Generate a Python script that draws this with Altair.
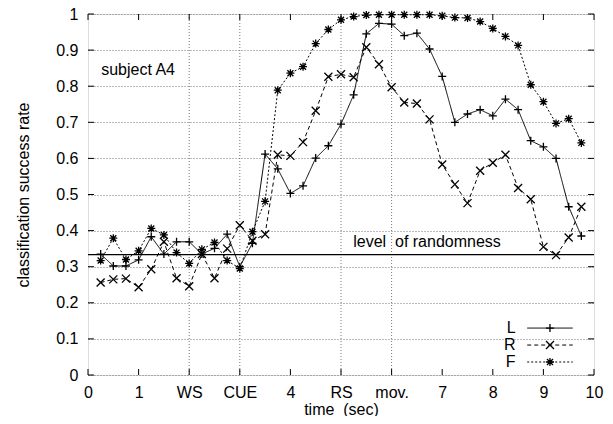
import altair as alt
import pandas as pd

# ---------------- data ----------------
time_s = [0.25, 0.5, 0.75, 1.0, 1.25, 1.5, 1.75, 2.0, 2.25, 2.5, 2.75, 3.0, 3.25,
          3.5, 3.75, 4.0, 4.25, 4.5, 4.75, 5.0, 5.25, 5.5, 5.75, 6.0, 6.25, 6.5,
          6.75, 7.0, 7.25, 7.5, 7.75, 8.0, 8.25, 8.5, 8.75, 9.0, 9.25, 9.5, 9.75]

L_vals = [0.335, 0.302, 0.302, 0.319, 0.383, 0.335, 0.369, 0.369, 0.335, 0.351,
          0.390, 0.300, 0.365, 0.612, 0.571, 0.503, 0.524, 0.601, 0.635, 0.695,
          0.776, 0.945, 0.974, 0.972, 0.940, 0.947, 0.903, 0.827, 0.700, 0.723,
          0.735, 0.718, 0.764, 0.735, 0.649, 0.632, 0.600, 0.466, 0.385]
R_vals = [0.256, 0.265, 0.267, 0.243, 0.293, 0.369, 0.268, 0.246, 0.335, 0.268,
          0.350, 0.415, 0.372, 0.390, 0.610, 0.607, 0.645, 0.732, 0.826, 0.833,
          0.825, 0.908, 0.861, 0.797, 0.755, 0.752, 0.708, 0.583, 0.528, 0.476,
          0.566, 0.588, 0.610, 0.518, 0.487, 0.355, 0.332, 0.381, 0.466]
F_vals = [0.317, 0.379, 0.320, 0.344, 0.406, 0.388, 0.339, 0.309, 0.348, 0.367,
          0.317, 0.295, 0.397, 0.481, 0.789, 0.836, 0.854, 0.918, 0.957, 0.984,
          0.993, 0.997, 0.998, 0.998, 0.998, 0.998, 0.998, 0.995, 0.990, 0.989,
          0.979, 0.960, 0.938, 0.913, 0.804, 0.757, 0.697, 0.710, 0.643]

x_ticks = [0, 1, 2, 3, 4, 5, 6, 7, 8, 9, 10]
x_tick_labels = ["0", "1", "WS", "CUE", "4", "RS", "mov.", "7", "8", "9", "10"]
x_grid = [2, 3, 5, 6]
y_ticks = [0, 0.1, 0.2, 0.3, 0.4, 0.5, 0.6, 0.7, 0.8, 0.9, 1.0]
randomness = [0.3333]

series_names = ["L", "R", "F"]
legend_y = [0.13, 0.083, 0.036]
legend_label_x = [8.45, 8.45, 8.45]
legend_line_x = [8.68, 9.58]
legend_marker_x = [9.13]

NBSP = "\u00a0"
randomness_text = "level" + NBSP + NBSP + "of randomness"
subject_text = "subject A4"
x_title = "time" + NBSP + NBSP + "(sec)"
y_title = "classification success rate"

# ---------------- styling ----------------
W, H = 506, 361
FONT = "Liberation Sans"
PLUS = "M-1,0L1,0M0,-1L0,1"
XSH = "M-1,-1L1,1M-1,1L1,-1"
STAR = "M-1,0L1,0M0,-1L0,1M-0.75,-0.75L0.75,0.75M-0.75,0.75L0.75,-0.75"
styles = {
    "L": dict(dash=[1, 0], shape=PLUS),
    "R": dict(dash=[4, 3], shape=XSH),
    "F": dict(dash=[2, 2], shape=STAR),
}
vals = {"L": L_vals, "R": R_vals, "F": F_vals}

xs = alt.Scale(domain=[0, 10], nice=False, zero=False)
ys = alt.Scale(domain=[0, 1], nice=False)

label_expr = " : ".join(
    f"datum.value == {v} ? '{lab}'" for v, lab in zip(x_ticks, x_tick_labels)
) + " : ''"

xaxis = alt.Axis(values=x_ticks, labelExpr=label_expr, grid=False, tickSize=0,
                 domain=False, labelFont=FONT, labelFontSize=16, labelColor="black",
                 labelPadding=9, labelOverlap=False, title=x_title, titleFont=FONT,
                 titleFontSize=16, titleFontWeight=400, titleColor="black",
                 titlePadding=1, labelFlush=False)
yaxis = alt.Axis(values=y_ticks, format="~g", grid=True, gridDash=[1, 2],
                 gridColor="#555", gridWidth=0.8, tickSize=0, domain=False,
                 labelFont=FONT, labelFontSize=16, labelColor="black",
                 labelPadding=10, labelOverlap=False, title=y_title,
                 titleFont=FONT, titleFontSize=16, titleFontWeight=400,
                 titleColor="black", titlePadding=24, labelFlush=False)


def X(field):
    return alt.X(field, scale=xs, axis=xaxis)


def Y(field):
    return alt.Y(field, scale=ys, axis=yaxis)


layers = []

# vertical grid lines (only at the event markers)
grid_df = pd.DataFrame({"x": x_grid})
layers.append(
    alt.Chart(grid_df).mark_rule(color="#555", strokeDash=[1, 2], strokeWidth=0.8)
    .encode(x=X("x:Q"), y=alt.value(0), y2=alt.value(H))
)
# inward ticks, left and right
ydf = pd.DataFrame({"y": y_ticks})
layers.append(
    alt.Chart(ydf).mark_rule(color="black", strokeWidth=1)
    .encode(y=Y("y:Q"), x=alt.value(0), x2=alt.value(6))
)
layers.append(
    alt.Chart(ydf).mark_rule(color="black", strokeWidth=1)
    .encode(y=Y("y:Q"), x=alt.value(W - 6), x2=alt.value(W))
)
# inward ticks, bottom and top
xdf = pd.DataFrame({"x": x_ticks})
layers.append(
    alt.Chart(xdf).mark_rule(color="black", strokeWidth=1)
    .encode(x=X("x:Q"), y=alt.value(H - 6), y2=alt.value(H))
)
layers.append(
    alt.Chart(xdf).mark_rule(color="black", strokeWidth=1)
    .encode(x=X("x:Q"), y=alt.value(0), y2=alt.value(6))
)

# randomness line
layers.append(
    alt.Chart(pd.DataFrame({"y": randomness})).mark_rule(color="black", strokeWidth=1.2)
    .encode(y=Y("y:Q"))
)

# series
for name in series_names:
    df = pd.DataFrame({"t": time_s, "v": vals[name]})
    st = styles[name]
    layers.append(
        alt.Chart(df).mark_line(color="black", strokeWidth=1, strokeDash=st["dash"])
        .encode(x=X("t:Q"), y=Y("v:Q"))
    )
    layers.append(
        alt.Chart(df).mark_point(shape=st["shape"], size=64, filled=False,
                                 color="black", strokeWidth=1.3, opacity=1)
        .encode(x=X("t:Q"), y=Y("v:Q"))
    )

# annotations
layers.append(
    alt.Chart(pd.DataFrame({"x": [6.7], "y": [0.368], "t": [randomness_text]}))
    .mark_text(font=FONT, fontSize=16, color="black", align="center", baseline="middle")
    .encode(x=X("x:Q"), y=Y("y:Q"), text="t:N")
)
layers.append(
    alt.Chart(pd.DataFrame({"x": [0.26], "y": [0.845], "t": [subject_text]}))
    .mark_text(font=FONT, fontSize=16, color="black", align="left", baseline="middle")
    .encode(x=X("x:Q"), y=Y("y:Q"), text="t:N")
)

# legend
for name, ly, lx in zip(series_names, legend_y, legend_label_x):
    st = styles[name]
    layers.append(
        alt.Chart(pd.DataFrame({"x": [lx], "y": [ly], "t": [name]}))
        .mark_text(font=FONT, fontSize=16, color="black", align="right", baseline="middle")
        .encode(x=X("x:Q"), y=Y("y:Q"), text="t:N")
    )
    ldf = pd.DataFrame({"x": legend_line_x, "y": [ly, ly]})
    layers.append(
        alt.Chart(ldf).mark_line(color="black", strokeWidth=1, strokeDash=st["dash"])
        .encode(x=X("x:Q"), y=Y("y:Q"))
    )
    layers.append(
        alt.Chart(pd.DataFrame({"x": legend_marker_x, "y": [ly]}))
        .mark_point(shape=st["shape"], size=64, filled=False, color="black",
                    strokeWidth=1.3, opacity=1)
        .encode(x=X("x:Q"), y=Y("y:Q"))
    )

chart = alt.layer(*layers).properties(
    width=W, height=H,
    autosize=alt.AutoSizeParams(type="none"),
    padding={"left": 80, "top": 6, "right": 11, "bottom": 41},
).configure_view(stroke="black", strokeWidth=1.2).configure(background="white")

chart.save("out.html", embed_options={"renderer": "svg", "actions": False})
